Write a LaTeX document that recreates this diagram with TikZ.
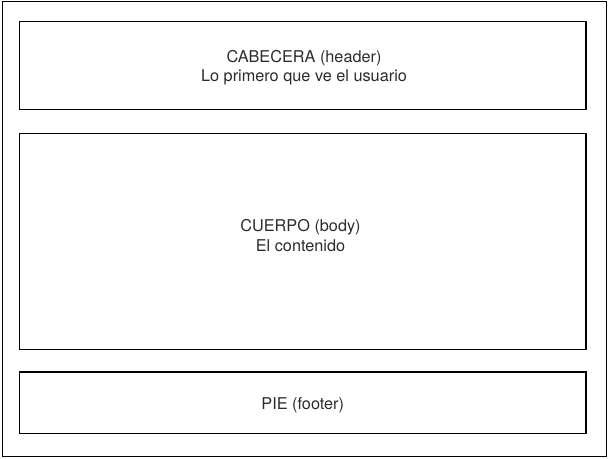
\documentclass[tikz,border=0pt]{standalone}
\usepackage{fontspec}
\setmainfont{TeX Gyre Heros}
\usepackage{tikz}
\usetikzlibrary{positioning}

\definecolor{txtgray}{HTML}{2B2B2B}

\tikzset{
  frame/.style={draw=black, line width=0.8pt},
  lbl/.style={text=txtgray, align=center, font=\fontsize{12.2}{14.6}\selectfont, inner sep=0pt}
}

\begin{document}
\begin{tikzpicture}[x=0.75pt, y=-0.75pt]
        \useasboundingbox (0,0) rectangle (609,458);

        % Page and sections
        \draw[frame] (2.5,1.5) rectangle (606.5,456.5);
        \draw[frame] (19.5,21.5) rectangle (586,109.5);
        \draw[frame] (19.5,133.5) rectangle (586,349.5);
        \draw[frame] (19.5,372) rectangle (586,433.5);

        % Labels
        \node[lbl] (header) at (304,67.5) {CABECERA (header)\\Lo primero que ve el usuario};
        \node[lbl] (body) at (300.5,235.5) {CUERPO (body)\\El contenido};
        \node[lbl] (footer) at (302.75,405) {PIE (footer)};
      \end{tikzpicture}
\end{document}
